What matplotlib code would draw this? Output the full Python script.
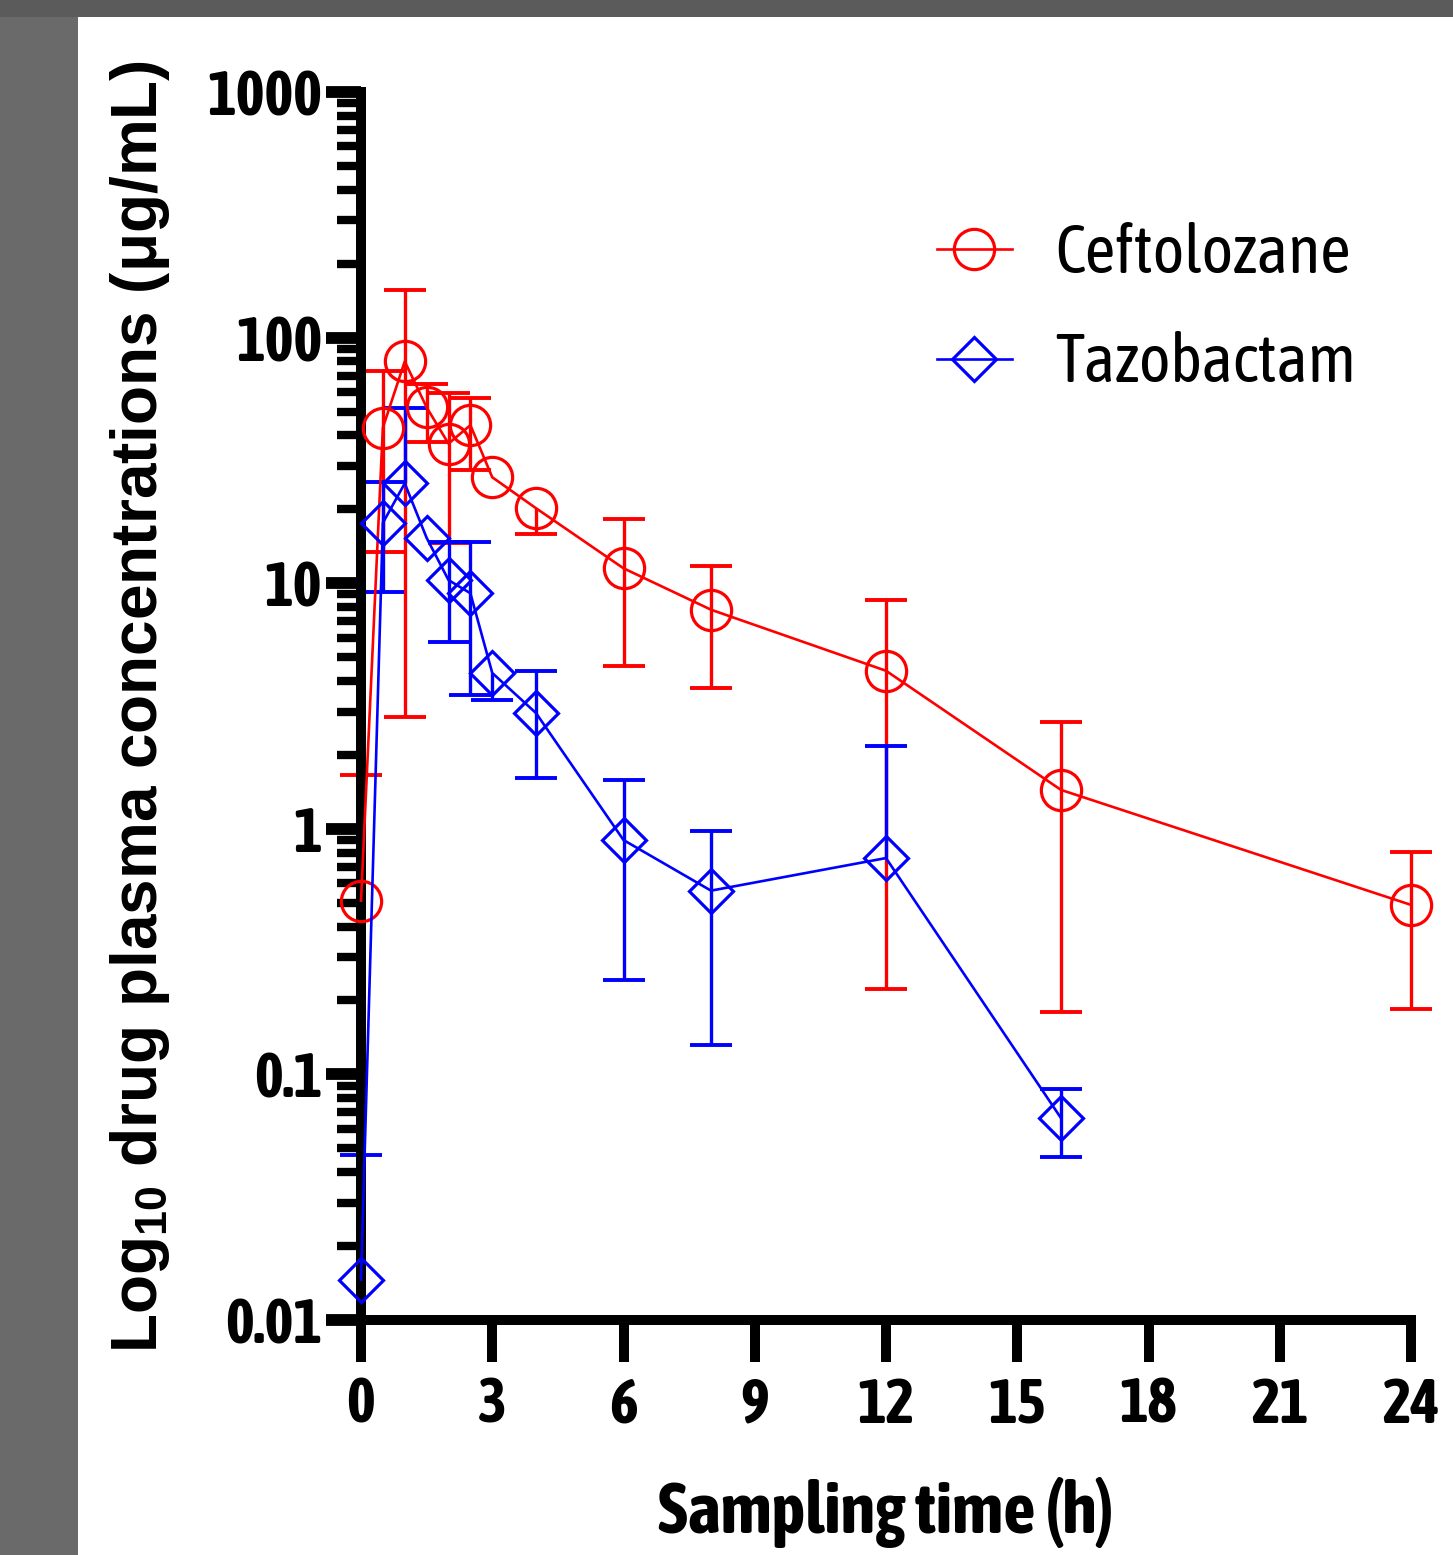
import numpy as np
import matplotlib
matplotlib.use("Agg")
import matplotlib.pyplot as plt
from matplotlib.patches import Rectangle
from matplotlib.ticker import FixedLocator, LogLocator, NullFormatter

nan = np.nan

# sampling times (h)
times = [0, 0.5, 1, 1.5, 2, 2.5, 3, 4, 6, 8, 12, 16, 24]

# Ceftolozane: mean, upper and lower end of the error bar (nan = not drawn)
ceft_mean = [0.51, 43, 80, 52, 37, 44, 27, 20.2, 11.5, 7.8, 4.4, 1.44, 0.49]
ceft_upper = [1.66, 73, 156, 65, 59.5, 57, nan, nan, 18.3, 11.7, 8.55, 2.72, 0.805]
ceft_lower = [nan, 13.4, 2.85, 37.6, 14.6, 28.9, nan, 15.9, 4.6, 3.74, 0.223, 0.18, 0.185]

# Tazobactam (no sample at 24 h)
taz_times = [0, 0.5, 1, 1.5, 2, 2.5, 3, 4, 6, 8, 12, 16]
taz_mean = [0.0146, 17.6, 25.5, 15.3, 10.3, 9.1, 4.31, 2.96, 0.90, 0.56, 0.76, 0.0664]
taz_upper = [0.047, 25.8, 51.7, nan, 14.7, 14.7, nan, 4.39, 1.58, 0.98, 2.17, 0.0873]
taz_lower = [nan, 9.2, nan, nan, 5.76, 3.5, 3.35, 1.61, 0.242, 0.132, nan, 0.0461]

xticks = [0, 3, 6, 9, 12, 15, 18, 21, 24]
yticks = [0.01, 0.1, 1, 10, 100, 1000]
ytick_labels = ['0.01', '0.1', '1', '10', '100', '1000']

NARROW = ['Asap Condensed', 'DejaVu Sans']
WIDE = ['Liberation Sans', 'DejaVu Sans']
plt.rcParams['font.family'] = NARROW
plt.rcParams['mathtext.fontset'] = 'custom'
plt.rcParams['mathtext.rm'] = 'Liberation Sans:bold'
plt.rcParams['mathtext.default'] = 'rm'

W, H = 1453, 1555
fig = plt.figure(figsize=(W / 100, H / 100), dpi=100)
fig.patch.set_facecolor('#5b5b5b')
fig.patches.append(Rectangle((0, 0), 78 / W, 1 - 17 / H, transform=fig.transFigure,
                             facecolor='#6a6a6a', edgecolor='none', zorder=-20))
fig.patches.append(Rectangle((78 / W, 0), 1 - 78 / W, 1 - 17 / H, transform=fig.transFigure,
                             facecolor='white', edgecolor='none', zorder=-20))

ax = fig.add_axes([361 / W, (H - 1320) / H, (1411 - 361) / W, (1320 - 92) / H])
ax.set_facecolor('none')
ax.set_zorder(5)


def draw_series(ax, t, mean, upper, lower, color, marker, ms, label):
    t = np.asarray(t, float)
    mean = np.asarray(mean, float)
    upper = np.asarray(upper, float)
    lower = np.asarray(lower, float)
    # error bars
    top = np.where(np.isnan(upper), mean, upper)
    bot = np.where(np.isnan(lower), mean, lower)
    ax.vlines(t, bot, top, color=color, lw=2.4, clip_on=False, zorder=2)
    ax.plot(t, upper, ls='none', marker='_', ms=30, mew=2.8, color=color,
            clip_on=False, zorder=2)
    ax.plot(t, lower, ls='none', marker='_', ms=30, mew=2.8, color=color,
            clip_on=False, zorder=2)
    # mean line with hollow markers
    ax.plot(t, mean, color=color, lw=1.9, marker=marker, ms=ms, mfc='none',
            mec=color, mew=2.3, clip_on=False, zorder=3, label=label)


draw_series(ax, times, ceft_mean, ceft_upper, ceft_lower, '#ff0000', 'o', 29, 'Ceftolozane')
draw_series(ax, taz_times, taz_mean, taz_upper, taz_lower, '#0000ff', 'D', 22, 'Tazobactam')

ax.set_yscale('log')
ax.set_xlim(0, 24)
ax.set_ylim(0.01, 1000)

for s in ['top', 'right']:
    ax.spines[s].set_visible(False)
for s in ['left', 'bottom']:
    ax.spines[s].set_linewidth(7.2)

ax.xaxis.set_major_locator(FixedLocator(xticks))
ax.set_xticklabels([str(v) for v in xticks])
ax.yaxis.set_major_locator(FixedLocator(yticks))
ax.set_yticklabels(ytick_labels)
ax.yaxis.set_minor_locator(LogLocator(base=10, subs=np.arange(2, 10)))
ax.yaxis.set_minor_formatter(NullFormatter())

ax.tick_params(axis='x', which='major', length=30, width=7.2, pad=10,
               labelsize=44)
ax.tick_params(axis='y', which='major', length=25, width=8.5, pad=3,
               labelsize=44)
ax.tick_params(axis='y', which='minor', length=17, width=6)
for lab in ax.get_xticklabels() + ax.get_yticklabels():
    lab.set_fontweight('bold')

ax.set_xlabel('Sampling time (h)', fontsize=51, fontweight='bold', labelpad=30)
ax.set_ylabel('Log$_{10}$ drug plasma concentrations (\u03bcg/mL)', fontsize=46,
              fontweight='bold', family=WIDE, labelpad=25)

leg = ax.legend(loc='center left', bbox_to_anchor=(937 / W, 1 - 309 / H),
                bbox_transform=fig.transFigure, frameon=False, fontsize=48,
                handlelength=1.12, handletextpad=0.66, labelspacing=0.67,
                borderpad=0, borderaxespad=0, numpoints=1)

fig.savefig('out.png', dpi=100, facecolor=fig.get_facecolor())
